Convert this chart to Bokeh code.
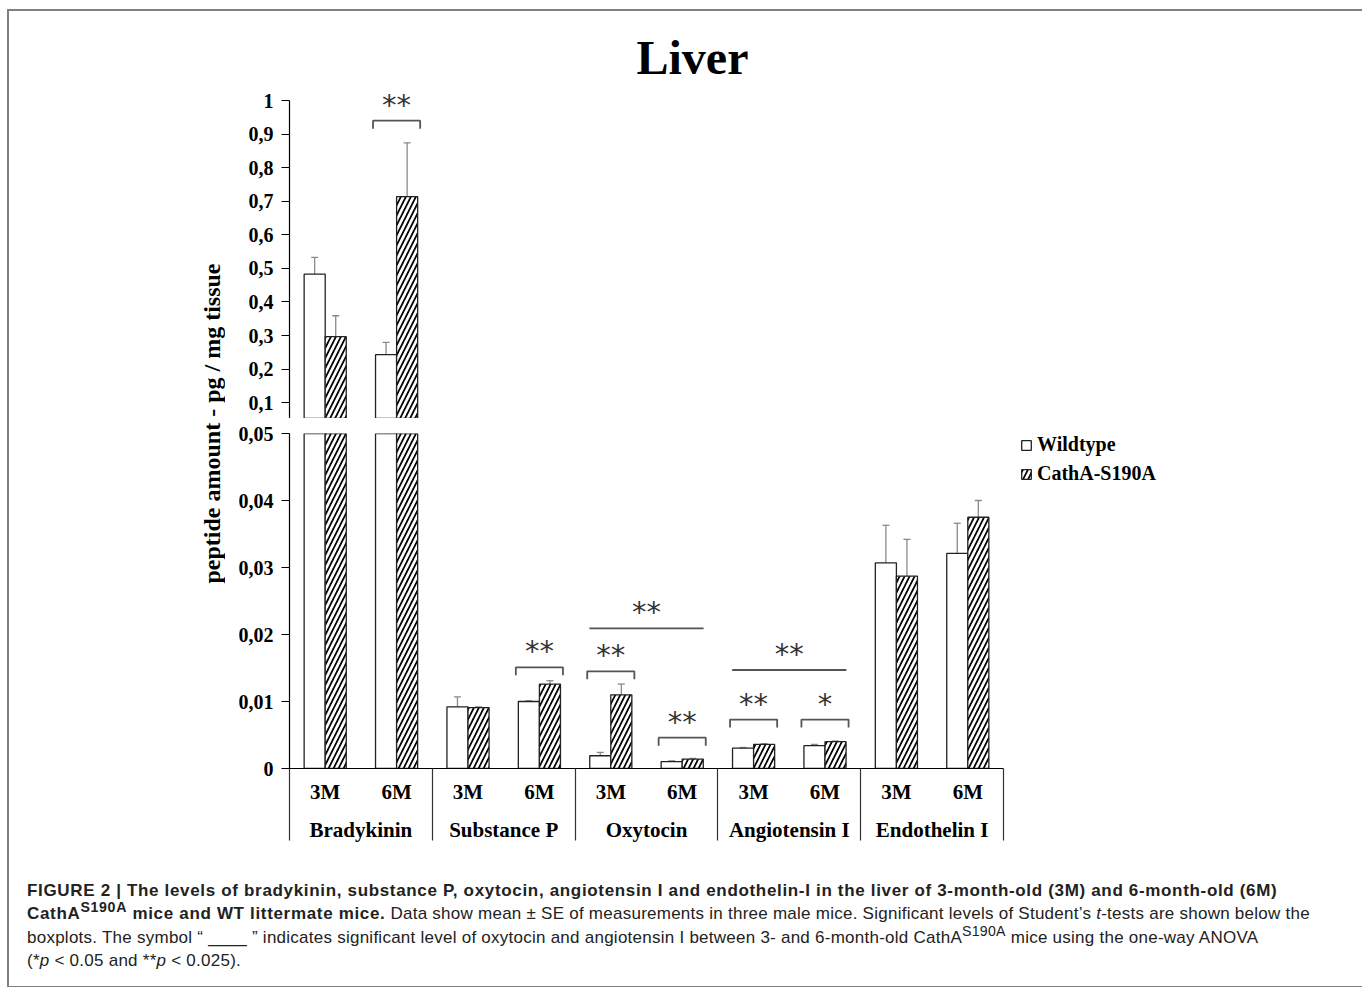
import math
from bokeh.plotting import figure
from bokeh.models import (Range1d, LinearAxis, FixedTicker, Whisker, TeeHead, ColumnDataSource,
                          Label, Legend, LegendItem, Div, CustomJSTickFormatter)
from bokeh.layouts import column, row
from bokeh.embed import file_html
from bokeh.resources import INLINE
from bokeh.core.properties import value

# ---------------- data ----------------
groups = ["Bradykinin", "Substance P", "Oxytocin", "Angiotensin I", "Endothelin I"]
ages = ["3M", "6M"]
wt_mean = [0.483, 0.243, 0.0092, 0.0100, 0.0019, 0.00104, 0.00303, 0.0034, 0.0307, 0.0321]
wt_se = [0.050, 0.037, 0.0015, 0.0001, 0.0005, 0.0001, 0.0001, 0.0002, 0.0056, 0.0045]
ko_mean = [0.297, 0.714, 0.0091, 0.0126, 0.0110, 0.0014, 0.0036, 0.0040, 0.0287, 0.0375]
ko_se = [0.062, 0.160, 0.0001, 0.0005, 0.0016, 0.0001, 0.0001, 0.0001, 0.0055, 0.0025]
low_ticks = [0, 0.01, 0.02, 0.03, 0.04, 0.05]
up_ticks = [0.1, 0.2, 0.3, 0.4, 0.5, 0.6, 0.7, 0.8, 0.9, 1]
# t-test brackets: (column index, level, label)
bracket_idx = [1, 3, 4, 5, 6, 7]
bracket_lvl = [0.94, 0.0151, 0.0145, 0.0046, 0.0073, 0.0073]
bracket_lbl = ["**", "**", "**", "**", "**", "*"]
# ANOVA lines: (first column, last column, level, label)
anova_from = [4, 6]
anova_to = [5, 7]
anova_lvl = [0.0209, 0.0147]
anova_lbl = ["**", "**"]
BREAK = 0.05

# ---------------- layout constants (page px) ----------------
OFF_X = 9
OFF_Y = 11
W = 1347
LAB_W = 216                 # width of the column that holds the y-axis title
AXIS_PX = 289               # page x of the y axes
FRAME_RIGHT_PX = 1200
ZERO_PX = 768
BREAK_LOW_PX = 433
BREAK_UP_PX = 419
UP_ONE_PX = 100
UP_TENTH_PX = 402
SPLIT_PX = 418              # where the upper canvas ends and the lower one starts
SUB_PX = 71.4
BW = 0.295
BOTTOM = 100

low_scale = (ZERO_PX - BREAK_LOW_PX) / BREAK
up_scale = (UP_TENTH_PX - UP_ONE_PX) / 0.9
up_start = BREAK + (BREAK_UP_PX - SPLIT_PX) / up_scale
up_end = 1 + (UP_ONE_PX - OFF_Y) / up_scale


def px_x(px):
    return (px - AXIS_PX) / SUB_PX


x_range = Range1d(0, px_x(FRAME_RIGHT_PX))
FIG_W = W - LAB_W
LEFT_B = AXIS_PX - (OFF_X + LAB_W)
RIGHT_B = (OFF_X + W) - FRAME_RIGHT_PX
UP_H = SPLIT_PX - OFF_Y
LOW_H = (ZERO_PX - SPLIT_PX) + BOTTOM

SERIF = "Liberation Serif"
BAR_LINE = "#222222"
ERR = "#8a8a8a"
SIG = "#555555"


def make_fig(height, y_range, top_b, bottom_b):
    f = figure(width=FIG_W, height=height, output_backend="svg", toolbar_location=None,
               x_range=x_range, y_range=y_range, x_axis_location=None, y_axis_location=None,
               min_border_left=LEFT_B, min_border_right=RIGHT_B,
               min_border_top=top_b, min_border_bottom=bottom_b)
    f.xgrid.visible = False
    f.ygrid.visible = False
    f.outline_line_color = None
    return f


up = make_fig(UP_H, Range1d(up_start, up_end), 0, 0)
low = make_fig(LOW_H, Range1d(0, BREAK), BREAK_LOW_PX - SPLIT_PX, BOTTOM)

n = len(wt_mean)
x_wt = [i + 0.5 - BW / 2 for i in range(n)]
x_ko = [i + 0.5 + BW / 2 for i in range(n)]

wt_style = dict(width=BW, bottom=0, fill_color="white", line_color=BAR_LINE, line_width=1.3)
ko_style = dict(width=BW, bottom=0, fill_color="white", line_color=BAR_LINE, line_width=1.3,
                hatch_pattern="/", hatch_color="black", hatch_weight=1.7, hatch_scale=10)

legend_renderers = []
for means, ses, xs, style in [(wt_mean, wt_se, x_wt, wt_style), (ko_mean, ko_se, x_ko, ko_style)]:
    for f, is_up in [(up, True), (low, False)]:
        # the upper segment only shows the bars that pass the break
        bar_i = [i for i, v in enumerate(means) if v > BREAK] if is_up else list(range(n))
        bsrc = ColumnDataSource(dict(x=[xs[i] for i in bar_i], top=[means[i] for i in bar_i]))
        r = f.vbar(x="x", top="top", source=bsrc, **style)
        if not is_up:
            legend_renderers.append(r)
        # error bars go on the segment where the bar ends
        err_i = [i for i, v in enumerate(means) if (v > BREAK) == is_up]
        if err_i:
            esrc = ColumnDataSource(dict(x=[xs[i] for i in err_i], lo=[means[i] for i in err_i],
                                         hi=[means[i] + ses[i] for i in err_i]))
            f.add_layout(Whisker(source=esrc, base="x", lower="lo", upper="hi",
                                 dimension="height", line_color=ERR, line_width=1.3,
                                 lower_head=None,
                                 upper_head=TeeHead(size=7, line_color=ERR, line_width=1.3)))

# ---------------- y axes (broken) ----------------
fmt = CustomJSTickFormatter(code="return String(tick).replace('.', ',');")
axis_style = dict(axis_line_color="black", axis_line_width=1.2,
                  major_tick_line_color="black", major_tick_out=8, major_tick_in=0,
                  minor_tick_line_color=None, major_label_standoff=8,
                  major_label_text_font=SERIF, major_label_text_font_style="bold",
                  major_label_text_font_size="20px", major_label_text_color="black")
low.add_layout(LinearAxis(ticker=FixedTicker(ticks=low_ticks), formatter=fmt, **axis_style), "left")
up.add_layout(LinearAxis(ticker=FixedTicker(ticks=up_ticks), formatter=fmt, bounds=(BREAK, 1),
                         **axis_style), "left")

# ---------------- x axes ----------------
SEP_PX = 72
centers = [i + 0.5 for i in range(n)]
seps = [2 * g for g in range(len(groups) + 1)]
sub_labels = [a for g in groups for a in ages]
x_sub = LinearAxis(ticker=FixedTicker(ticks=centers, minor_ticks=seps),
                   formatter=CustomJSTickFormatter(args=dict(labels=sub_labels),
                                                   code="return labels[Math.floor(tick)];"),
                   bounds=(0, n), axis_line_color="black", axis_line_width=1.2,
                   major_tick_line_color=None, major_tick_out=0, major_tick_in=0,
                   minor_tick_line_color="#333333", minor_tick_out=SEP_PX, minor_tick_in=0,
                   minor_tick_line_width=1.2, major_label_standoff=11 - SEP_PX,
                   major_label_text_font=SERIF, major_label_text_font_style="bold",
                   major_label_text_font_size="21px", major_label_text_color="black")
low.add_layout(x_sub, "below")
x_grp = LinearAxis(ticker=FixedTicker(ticks=[2 * g + 1 for g in range(len(groups))]),
                   formatter=CustomJSTickFormatter(args=dict(labels=groups),
                                                   code="return labels[Math.floor(tick / 2)];"),
                   axis_line_color=None, major_tick_line_color=None, minor_tick_line_color=None,
                   major_tick_out=0, major_tick_in=0, major_label_standoff=11,
                   major_label_text_font=SERIF, major_label_text_font_style="bold",
                   major_label_text_font_size="21px", major_label_text_color="black")
low.add_layout(x_grp, "below")

# ---------------- significance marks ----------------
HALF = 0.33
TICK_PX = 8
TXT_PX = 16
STAR_FONT = dict(text_font=value("DejaVu Sans"), text_font_size="29px", text_color="#333333",
                 text_align="center", text_baseline="middle")
for f, scale, is_up in [(low, low_scale, False), (up, up_scale, True)]:
    sel = [k for k, lv in enumerate(bracket_lvl) if (lv > BREAK) == is_up]
    if not sel:
        continue
    xs, ys = [], []
    for k in sel:
        c = bracket_idx[k] + 0.5
        lv = bracket_lvl[k]
        d = TICK_PX / scale
        xs.append([c - HALF, c - HALF, c + HALF, c + HALF])
        ys.append([lv - d, lv, lv, lv - d])
    f.multi_line(xs, ys, line_color=SIG, line_width=1.8)
    f.text(x=[bracket_idx[k] + 0.5 for k in sel],
           y=[bracket_lvl[k] + TXT_PX / scale for k in sel],
           text=[bracket_lbl[k] for k in sel], **STAR_FONT)

low.segment(x0=[a + 0.5 - 0.3 for a in anova_from], x1=[b + 0.5 + 0.3 for b in anova_to],
            y0=anova_lvl, y1=anova_lvl, line_color=SIG, line_width=1.8)
low.text(x=[(a + b + 1) / 2 for a, b in zip(anova_from, anova_to)],
         y=[lv + TXT_PX / low_scale for lv in anova_lvl], text=anova_lbl, **STAR_FONT)

# ---------------- title ----------------
up.add_layout(Label(x=px_x(692), y=1 + (UP_ONE_PX - 57) / up_scale, text="Liver",
                    text_font=SERIF, text_font_style="bold", text_font_size="48px",
                    text_color="black", text_align="center", text_baseline="middle"))

# ---------------- legend ----------------
legend = Legend(items=[LegendItem(label="Wildtype", renderers=[legend_renderers[0]]),
                       LegendItem(label="CathA-S190A", renderers=[legend_renderers[1]])],
                location=(1020 - AXIS_PX, ZERO_PX - 485),
                border_line_color=None, background_fill_alpha=0,
                label_text_font=SERIF, label_text_font_style="bold",
                label_text_font_size="20px", label_text_color="black",
                glyph_width=12, glyph_height=12, padding=0, spacing=6,
                label_standoff=5, margin=0)
low.add_layout(legend)

# ---------------- y-axis title (spans both segments) ----------------
LAB_H = UP_H + LOW_H
ylab = figure(width=LAB_W, height=LAB_H, output_backend="svg", toolbar_location=None,
              x_range=Range1d(OFF_X, OFF_X + LAB_W), y_range=Range1d(OFF_Y + LAB_H, OFF_Y),
              x_axis_location=None, y_axis_location=None,
              min_border_left=0, min_border_right=0, min_border_top=0, min_border_bottom=0)
ylab.xgrid.visible = False
ylab.ygrid.visible = False
ylab.outline_line_color = None
ylab.add_layout(Label(x=211, y=423, text="peptide amount - pg / mg tissue",
                      angle=math.pi / 2, text_font=SERIF, text_font_style="bold",
                      text_font_size="24px", text_color="black",
                      text_align="center", text_baseline="middle"))

# ---------------- caption ----------------
B = "<b style='letter-spacing:0.67px'>"
caption = (B + "FIGURE 2 | The levels of bradykinin, substance P, oxytocin, angiotensin I and "
           "endothelin-I in the liver of 3-month-old (3M) and 6-month-old (6M)</b><br>"
           + B + "CathA<sup style='line-height:0'>S190A</sup> mice and WT littermate mice.</b> "
           "Data show mean \u00b1 SE of "
           "measurements in three male mice. Significant levels of Student\u2019s <i>t</i>-tests "
           "are shown below the<br>boxplots. The symbol \u201c ____ \u201d indicates significant "
           "level of oxytocin and angiotensin I between 3- and 6-month-old "
           "CathA<sup style='line-height:0'>S190A</sup> "
           "mice using the one-way ANOVA<br>(*<i>p</i> &lt; 0.05 and **<i>p</i> &lt; 0.025).")
div = Div(text=caption, width=W, height=108,
          styles={"font-family": "'Liberation Sans', Arial, sans-serif", "font-size": "17px",
                  "line-height": "23.3px", "color": "#222222", "white-space": "nowrap",
                  "letter-spacing": "0.25px",
                  "padding-left": "13px", "padding-top": "6px", "box-sizing": "border-box"})

layout = column(row(ylab, column(up, low, spacing=0), spacing=0), div, spacing=0,
                styles={"border": "2px solid #808080", "margin-left": "7px", "margin-top": "9px"})
open("out.html", "w").write(file_html(layout, INLINE))
